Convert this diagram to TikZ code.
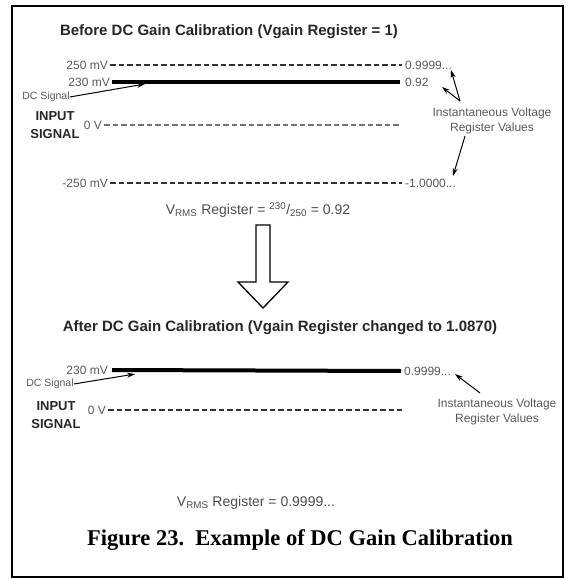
\documentclass[tikz,border=0pt]{standalone}
\usepackage{fontspec}
\setmainfont{Liberation Serif}
\setsansfont{Liberation Sans}
\usetikzlibrary{arrows.meta}
\tikzset{
  lbl/.style={font=\sffamily\fontsize{12}{13}\selectfont, text=black!65, inner sep=0pt},
  tiny/.style={font=\sffamily\fontsize{10.5}{11}\selectfont, text=black!65, inner sep=0pt},
  hdr/.style={font=\sffamily\bfseries\fontsize{15}{17}\selectfont, text=black!85, inner sep=0pt},
  side/.style={font=\sffamily\bfseries\fontsize{13}{17.5}\selectfont, align=center, inner sep=0pt, text=black!85},
  frm/.style={font=\sffamily\fontsize{14}{15}\selectfont, text=black!70, inner sep=0pt},
  refline/.style={line width=2pt, dash pattern=on 5.5pt off 3pt, black!80, shorten <=2pt, shorten >=3pt},
  zeroline/.style={line width=1.2pt, dash pattern=on 5.5pt off 3pt, black!55, shorten <=2pt},
  sigline/.style={line width=4pt},
  ptr/.style={line width=1pt, -{Stealth[length=8pt,width=5pt]}},
}

\begin{document}
\begin{tikzpicture}[x=1pt,y=-1pt]
\useasboundingbox (0,0) rectangle (573,580);
\draw[line width=2.5pt] (12,6) rectangle (563,577);

% before calibration
\node[hdr] (t1) at (229,32) {Before DC Gain Calibration (Vgain Register = 1)};
\node[lbl,anchor=east] (a1) at (108,65) {250 mV};
\node[lbl,anchor=east] (a2) at (110,82) {230 mV};
\node[lbl,anchor=east] (a3) at (102,125) {0 V};
\node[lbl,anchor=east] (a4) at (108,183) {-250 mV};
\node[lbl,anchor=west] (b1) at (405,65) {0.9999...};
\node[lbl,anchor=west] (b2) at (405,82) {0.92};
\coordinate (b3) at (400,125);
\node[lbl,anchor=west] (b4) at (405,183) {-1.0000...};
\node[tiny] (d1) at (46,97) {DC Signal};
\node[side] (s1) at (55,125) {INPUT\\SIGNAL};
\node[lbl] (i1) at (492,113) {Instantaneous Voltage};
\node[lbl] (i2) at (492,128) {Register Values};
\coordinate (p1) at (145,84);
\coordinate (q1) at (460,101);
\coordinate (q2) at (465,136);
\coordinate (r1) at (451,70);
\coordinate (r2) at (442,87);
\coordinate (r4) at (453,176);

\path[draw,refline] (a1) -- (b1);
\path[draw,sigline] ([xshift=2pt]a2.east) -- ([xshift=-5pt]b2.west);
\path[draw,zeroline] (a3) -- (b3);
\path[draw,refline] (a4) -- (b4);
\path[draw,ptr] (d1.east) -- (p1);
\path[draw,ptr] (q1) -- (r1);
\path[draw,ptr] (q1) -- (r2);
\path[draw,ptr] (q2) -- (r4);

\node[frm] (f1) at (258,210) {V\textsubscript{RMS} Register = \textsuperscript{230}/\textsubscript{250} = 0.92};

% big arrow
\draw[line width=1.3pt, fill=white] (256,225) -- (270,225) -- (270,282) -- (288,282)
  -- (263,308) -- (238,282) -- (256,282) -- cycle;

% after calibration
\node[hdr] (t2) at (280,328) {After DC Gain Calibration (Vgain Register changed to 1.0870)};
\node[lbl,anchor=east] (a5) at (108,370) {230 mV};
\node[lbl,anchor=east] (a6) at (106,410) {0 V};
\node[lbl,anchor=west] (b5) at (404,371) {0.9999...};
\coordinate (b6) at (402,410);
\node[tiny] (d2) at (50,384) {DC Signal};
\node[side] (s2) at (56,415) {INPUT\\SIGNAL};
\node[lbl] (i3) at (497,404) {Instantaneous Voltage};
\node[lbl] (i4) at (497,419) {Register Values};
\coordinate (p2) at (135,374);
\coordinate (q3) at (480,393);
\coordinate (r5) at (455,374);

\path[draw,sigline] ([xshift=4pt]a5.east) -- ([xshift=-3pt]b5.west);
\path[draw,refline,shorten >=0pt] (a6) -- (b6);
\path[draw,ptr] (d2.east) -- (p2);
\path[draw,ptr] (q3) -- (r5);

\node[frm] (f2) at (256,503) {V\textsubscript{RMS} Register = 0.9999...};
\node[font=\rmfamily\bfseries\fontsize{22.5}{26}\selectfont, inner sep=0pt] (cap) at (300,540)
  {Figure 23.\ \ Example of DC Gain Calibration};
\end{tikzpicture}
\end{document}
